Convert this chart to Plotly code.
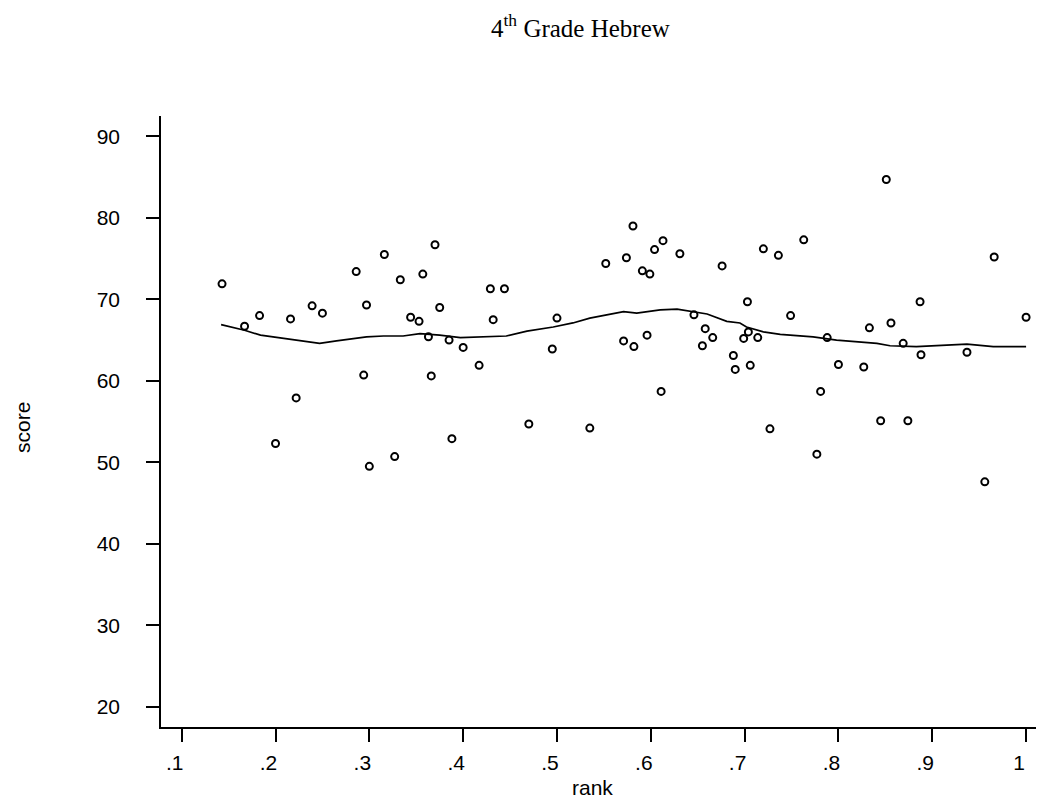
import plotly.graph_objects as go

# observed points (rank, score)
rank = [0.143, 0.167, 0.183, 0.200, 0.216, 0.222, 0.239, 0.250, 0.286, 0.294,
        0.297, 0.300, 0.316, 0.327, 0.333, 0.344, 0.353, 0.357, 0.363, 0.366,
        0.370, 0.375, 0.385, 0.388, 0.400, 0.417, 0.429, 0.432, 0.444, 0.470,
        0.495, 0.500, 0.535, 0.552, 0.571, 0.574, 0.581, 0.582, 0.591, 0.596,
        0.599, 0.604, 0.611, 0.613, 0.631, 0.646, 0.655, 0.658, 0.666, 0.676,
        0.688, 0.690, 0.699, 0.703, 0.704, 0.706, 0.714, 0.720, 0.727, 0.736,
        0.749, 0.763, 0.777, 0.781, 0.788, 0.800, 0.827, 0.833, 0.845, 0.851,
        0.856, 0.869, 0.874, 0.887, 0.888, 0.937, 0.956, 0.966, 1.000]
score = [71.9, 66.7, 68.0, 52.3, 67.6, 57.9, 69.2, 68.3, 73.4, 60.7,
         69.3, 49.5, 75.5, 50.7, 72.4, 67.8, 67.3, 73.1, 65.4, 60.6,
         76.7, 69.0, 65.0, 52.9, 64.1, 61.9, 71.3, 67.5, 71.3, 54.7,
         63.9, 67.7, 54.2, 74.4, 64.9, 75.1, 79.0, 64.2, 73.5, 65.6,
         73.1, 76.1, 58.7, 77.2, 75.6, 68.1, 64.3, 66.4, 65.3, 74.1,
         63.1, 61.4, 65.2, 69.7, 66.0, 61.9, 65.3, 76.2, 54.1, 75.4,
         68.0, 77.3, 51.0, 58.7, 65.3, 62.0, 61.7, 66.5, 55.1, 84.7,
         67.1, 64.6, 55.1, 69.7, 63.2, 63.5, 47.6, 75.2, 67.8]

# smoothed curve
smooth_rank = [0.142, 0.167, 0.184, 0.215, 0.247, 0.265, 0.297, 0.315, 0.336, 0.354,
               0.375, 0.397, 0.429, 0.446, 0.468, 0.496, 0.517, 0.535, 0.553, 0.571,
               0.585, 0.610, 0.628, 0.645, 0.660, 0.681, 0.695, 0.702, 0.720, 0.738,
               0.773, 0.798, 0.841, 0.855, 0.883, 0.937, 0.965, 1.000]
smooth_score = [66.9, 66.2, 65.6, 65.1, 64.6, 64.9, 65.4, 65.5, 65.5, 65.8,
                65.6, 65.3, 65.4, 65.5, 66.1, 66.6, 67.1, 67.7, 68.1, 68.5,
                68.3, 68.7, 68.8, 68.5, 68.2, 67.3, 67.1, 66.6, 66.0, 65.7,
                65.4, 65.0, 64.6, 64.3, 64.2, 64.5, 64.2, 64.2]

x_ticks = [0.1, 0.2, 0.3, 0.4, 0.5, 0.6, 0.7, 0.8, 0.9, 1.0]
x_tick_labels = [".1", ".2", ".3", ".4", ".5", ".6", ".7", ".8", ".9", "1"]
y_ticks = [20, 30, 40, 50, 60, 70, 80, 90]

# the page body has an 8px margin, so the figure is offset by (8, 8)
OFF = 8
W, H = 1044 - OFF, 802 - OFF
L, R, T, B = 161 - OFF, 0, 116 - OFF, 75

fig = go.Figure()
fig.add_trace(go.Scatter(
    x=rank, y=score, mode="markers",
    marker=dict(symbol="circle-open", size=7, color="black",
                line=dict(color="black", width=2)),
    showlegend=False, hoverinfo="x+y"))
fig.add_trace(go.Scatter(
    x=smooth_rank, y=smooth_score, mode="lines",
    line=dict(color="black", width=1.7), showlegend=False))

axis_font = dict(family="Liberation Sans, Arial, sans-serif", size=21, color="black")


def ann(text, px_, py_, font, angle=0):
    # px_, py_ are window pixel positions
    fx = px_ - OFF
    fy = py_ - OFF
    return dict(text=text, xref="paper", yref="paper",
                x=(fx - L) / (W - L - R), y=1 - (fy - T) / (H - T - B),
                xanchor="center", yanchor="middle", showarrow=False,
                textangle=angle, font=font)


fig.update_layout(
    width=W, height=H,
    margin=dict(l=L, r=R, t=T, b=B, pad=0),
    paper_bgcolor="white", plot_bgcolor="white",
    xaxis=dict(range=[0.07794, 1.0191], tickvals=x_ticks, ticktext=x_tick_labels,
               showgrid=False, zeroline=False, showline=True, linecolor="black",
               linewidth=1.5, ticks="outside", ticklen=13, tickwidth=1.5,
               tickcolor="black", tickfont=axis_font, ticklabelshift=-7,
               ticklabelstandoff=3),
    yaxis=dict(range=[17.51, 92.5], tickvals=y_ticks,
               showgrid=False, zeroline=False, showline=True, linecolor="black",
               linewidth=1.5, ticks="outside", ticklen=13, tickwidth=1.5,
               tickcolor="black", tickfont=axis_font, ticklabelstandoff=22),
    annotations=[
        ann("4<sup>th</sup> Grade Hebrew", 580, 26,
            dict(family="Liberation Serif, Times New Roman, serif", size=25,
                 color="black")),
        ann("score", 22, 428, axis_font, -90),
        ann("rank", 592, 787, axis_font),
    ],
)

fig.write_html("out.html")
